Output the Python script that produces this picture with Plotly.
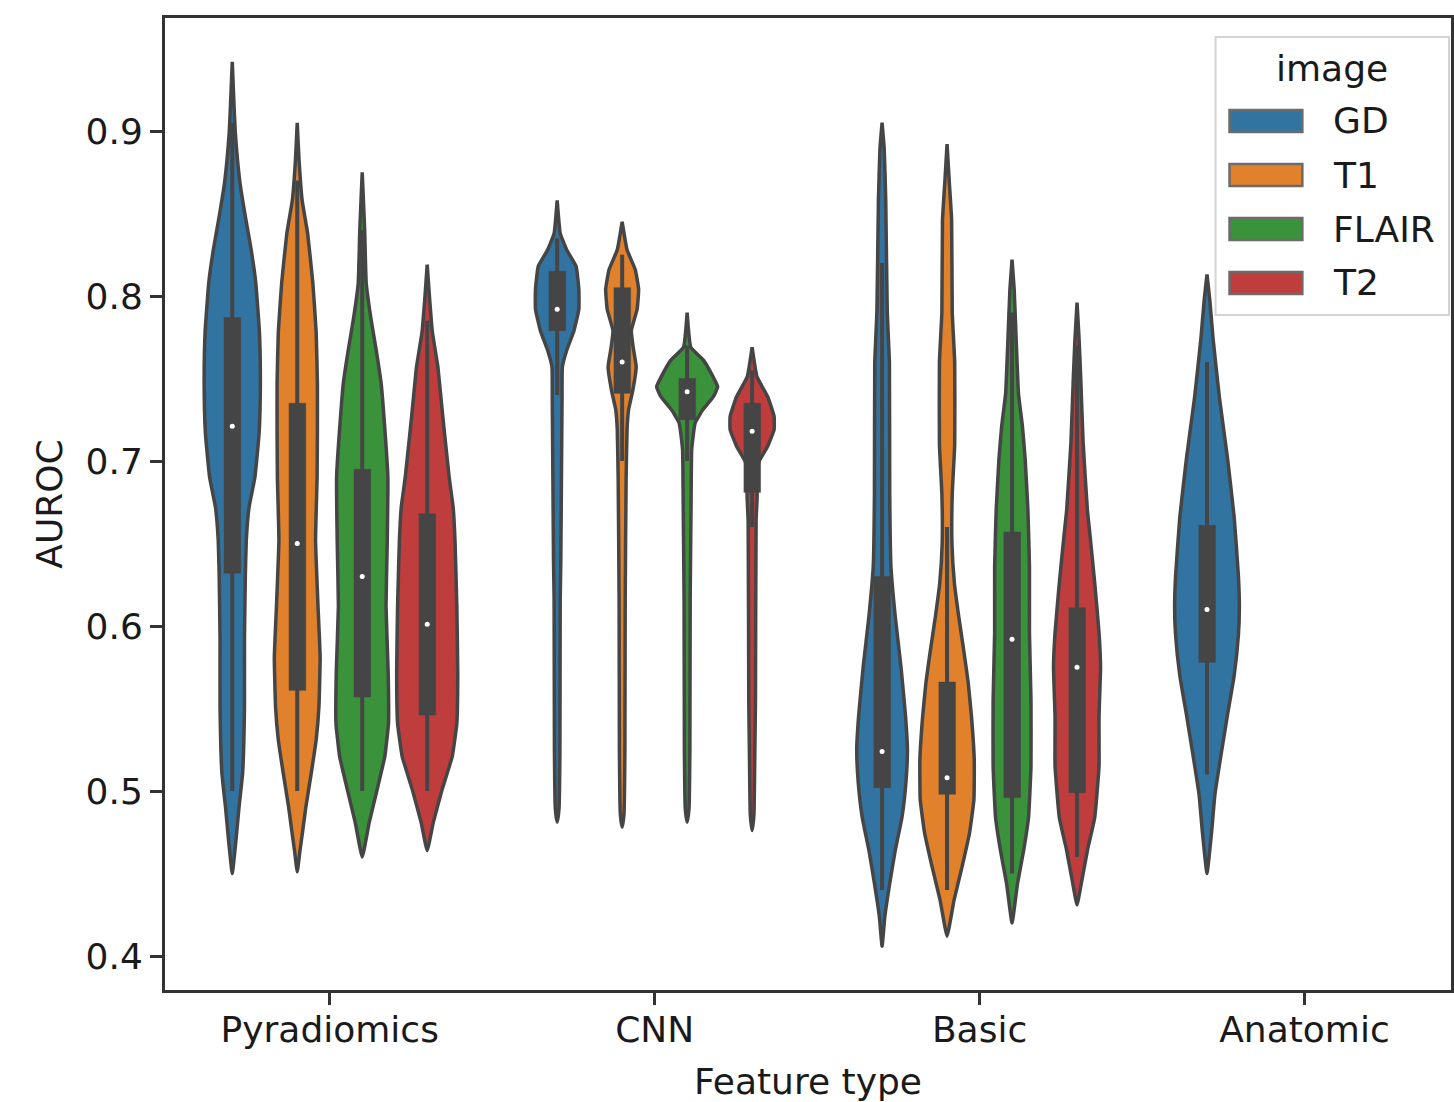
import plotly.graph_objects as go

# ---------------------------------------------------------------- categories
FEATURES = ["Pyradiomics", "CNN", "Basic", "Anatomic"]
IMAGES = ["GD", "T1", "FLAIR", "T2"]
COLORS = ["#3274a1", "#e1812c", "#3a923a", "#c03d3e"]
Y_TICKS = [0.4, 0.5, 0.6, 0.7, 0.8, 0.9]
Y_TICK_LABELS = ["0.4", "0.5", "0.6", "0.7", "0.8", "0.9"]

# ------------------------------------------------ kernel density profiles
# AUROC levels and relative density (1.0 = widest violin) for each violin
pyr_gd_auroc = [0.450, 0.470, 0.490, 0.511, 0.551, 0.592, 0.632, 0.652, 0.672, 0.690,
                0.717, 0.747, 0.778, 0.808, 0.828, 0.848, 0.869, 0.899, 0.919, 0.942]
pyr_gd_density = [0.0, 0.12, 0.22, 0.34, 0.40, 0.40, 0.43, 0.46, 0.55, 0.74,
                  0.88, 0.92, 0.89, 0.77, 0.62, 0.43, 0.25, 0.10, 0.05, 0.0]

pyr_t1_auroc = [0.451, 0.464, 0.476, 0.490, 0.511, 0.531, 0.551, 0.581, 0.612, 0.652,
                0.690, 0.717, 0.747, 0.778, 0.808, 0.838, 0.858, 0.882, 0.905]
pyr_t1_density = [0.0, 0.09, 0.18, 0.28, 0.46, 0.62, 0.71, 0.75, 0.68, 0.60,
                  0.65, 0.66, 0.66, 0.62, 0.51, 0.34, 0.16, 0.06, 0.0]

pyr_flair_auroc = [0.460, 0.481, 0.501, 0.521, 0.541, 0.572, 0.612, 0.652, 0.690,
                   0.727, 0.747, 0.767, 0.787, 0.808, 0.840, 0.875]
pyr_flair_density = [0.0, 0.23, 0.49, 0.74, 0.86, 0.85, 0.78, 0.82, 0.84,
                     0.71, 0.62, 0.46, 0.28, 0.13, 0.08, 0.0]

pyr_t2_auroc = [0.464, 0.481, 0.501, 0.521, 0.541, 0.572, 0.612, 0.652, 0.672,
                0.690, 0.727, 0.757, 0.778, 0.798, 0.819]
pyr_t2_density = [0.0, 0.20, 0.49, 0.82, 0.97, 1.00, 0.97, 0.91, 0.85,
                  0.72, 0.51, 0.35, 0.17, 0.08, 0.0]

cnn_gd_auroc = [0.481, 0.489, 0.525, 0.616, 0.640, 0.689, 0.737, 0.757, 0.767,
                0.779, 0.792, 0.804, 0.818, 0.828, 0.838, 0.858]
cnn_gd_density = [0.0, 0.06, 0.09, 0.10, 0.12, 0.14, 0.16, 0.17, 0.31,
                  0.55, 0.71, 0.71, 0.62, 0.31, 0.10, 0.0]

cnn_t1_auroc = [0.478, 0.486, 0.525, 0.616, 0.689, 0.719, 0.731, 0.743, 0.757,
                0.769, 0.779, 0.792, 0.804, 0.816, 0.828, 0.845]
cnn_t1_density = [0.0, 0.06, 0.09, 0.10, 0.13, 0.16, 0.21, 0.35, 0.46,
                  0.36, 0.30, 0.49, 0.54, 0.43, 0.16, 0.0]

cnn_flair_auroc = [0.481, 0.489, 0.525, 0.616, 0.676, 0.707, 0.723, 0.731, 0.739,
                   0.745, 0.751, 0.761, 0.769, 0.790]
cnn_flair_density = [0.0, 0.06, 0.09, 0.10, 0.13, 0.15, 0.26, 0.51, 0.86,
                     1.00, 0.85, 0.54, 0.12, 0.0]

cnn_t2_auroc = [0.476, 0.486, 0.525, 0.555, 0.664, 0.676, 0.699, 0.709, 0.719,
                0.727, 0.739, 0.751, 0.769]
cnn_t2_density = [0.0, 0.06, 0.09, 0.11, 0.13, 0.16, 0.21, 0.51, 0.72,
                  0.72, 0.51, 0.16, 0.0]

basic_gd_auroc = [0.406, 0.424, 0.444, 0.464, 0.484, 0.505, 0.525, 0.545, 0.575,
                  0.606, 0.636, 0.680, 0.760, 0.790, 0.858, 0.889, 0.905]
basic_gd_density = [0.0, 0.09, 0.25, 0.43, 0.65, 0.78, 0.83, 0.77, 0.62,
                    0.43, 0.29, 0.25, 0.24, 0.17, 0.12, 0.07, 0.0]

basic_t1_auroc = [0.412, 0.434, 0.454, 0.475, 0.495, 0.519, 0.545, 0.566, 0.586,
                  0.606, 0.626, 0.650, 0.680, 0.710, 0.760, 0.790, 0.846, 0.870, 0.892]
basic_t1_density = [0.0, 0.23, 0.49, 0.74, 0.88, 0.89, 0.80, 0.69, 0.54,
                    0.38, 0.24, 0.16, 0.17, 0.25, 0.25, 0.17, 0.15, 0.07, 0.0]

basic_flair_auroc = [0.420, 0.444, 0.464, 0.484, 0.515, 0.555, 0.596, 0.636, 0.670,
                     0.701, 0.721, 0.741, 0.776, 0.804, 0.822]
basic_flair_density = [0.0, 0.18, 0.38, 0.54, 0.62, 0.62, 0.57, 0.57, 0.52,
                       0.43, 0.34, 0.21, 0.13, 0.07, 0.0]

basic_t2_auroc = [0.431, 0.444, 0.464, 0.484, 0.515, 0.545, 0.575, 0.596, 0.626,
                  0.656, 0.670, 0.711, 0.751, 0.773, 0.796]
basic_t2_density = [0.0, 0.14, 0.34, 0.58, 0.72, 0.72, 0.77, 0.72, 0.58,
                    0.42, 0.34, 0.20, 0.12, 0.07, 0.0]

anat_gd_auroc = [0.450, 0.475, 0.498, 0.522, 0.546, 0.570, 0.595, 0.611, 0.630,
                 0.666, 0.702, 0.738, 0.774, 0.798, 0.813]
anat_gd_density = [0.0, 0.15, 0.26, 0.46, 0.67, 0.89, 1.03, 1.06, 1.03,
                   0.89, 0.67, 0.41, 0.20, 0.09, 0.0]

# ---------------------------------------- box statistics (GD, T1, FLAIR, T2)
pyr_q1 = [0.632, 0.561, 0.557, 0.546]
pyr_median = [0.721, 0.650, 0.630, 0.601]
pyr_q3 = [0.787, 0.735, 0.695, 0.668]
pyr_whisker_low = [0.500, 0.500, 0.500, 0.500]
pyr_whisker_high = [0.905, 0.870, 0.840, 0.785]

cnn_q1 = [0.779, 0.741, 0.725, 0.681]
cnn_median = [0.792, 0.760, 0.742, 0.718]
cnn_q3 = [0.815, 0.805, 0.750, 0.735]
cnn_whisker_low = [0.740, 0.700, 0.700, 0.660]
cnn_whisker_high = [0.835, 0.825, 0.770, 0.755]

basic_q1 = [0.502, 0.498, 0.496, 0.499]
basic_median = [0.524, 0.508, 0.592, 0.575]
basic_q3 = [0.630, 0.566, 0.657, 0.611]
basic_whisker_low = [0.440, 0.440, 0.450, 0.460]
basic_whisker_high = [0.820, 0.660, 0.790, 0.770]

anat_q1 = [0.578]
anat_median = [0.610]
anat_q3 = [0.661]
anat_whisker_low = [0.510]
anat_whisker_high = [0.760]

# ---------------------------------------------------------------- assembly
profiles = {
    "Pyradiomics": [(pyr_gd_auroc, pyr_gd_density), (pyr_t1_auroc, pyr_t1_density),
                    (pyr_flair_auroc, pyr_flair_density), (pyr_t2_auroc, pyr_t2_density)],
    "CNN": [(cnn_gd_auroc, cnn_gd_density), (cnn_t1_auroc, cnn_t1_density),
            (cnn_flair_auroc, cnn_flair_density), (cnn_t2_auroc, cnn_t2_density)],
    "Basic": [(basic_gd_auroc, basic_gd_density), (basic_t1_auroc, basic_t1_density),
              (basic_flair_auroc, basic_flair_density), (basic_t2_auroc, basic_t2_density)],
    "Anatomic": [(anat_gd_auroc, anat_gd_density)],
}
box_stats = {
    "Pyradiomics": (pyr_q1, pyr_median, pyr_q3, pyr_whisker_low, pyr_whisker_high),
    "CNN": (cnn_q1, cnn_median, cnn_q3, cnn_whisker_low, cnn_whisker_high),
    "Basic": (basic_q1, basic_median, basic_q3, basic_whisker_low, basic_whisker_high),
    "Anatomic": (anat_q1, anat_median, anat_q3, anat_whisker_low, anat_whisker_high),
}

GRAY = "#454545"
FONT = "DejaVu Sans"
TEXT = "#1a1a1a"
GROUP_WIDTH = 0.8
SLOT = GROUP_WIDTH / len(IMAGES)
HALF_WIDTH = 0.094          # half-width (category units) of a density of 1.0
BOX_HALF = 0.026

fig = go.Figure()

for fi, feature in enumerate(FEATURES):
    q1s, meds, q3s, lows, highs = box_stats[feature]
    for hi, (levels, dens) in enumerate(profiles[feature]):
        center = fi - GROUP_WIDTH / 2 + SLOT * (hi + 0.5)
        color = COLORS[hi]
        # violin outline: right side going up, left side coming back down
        xs = [center + d * HALF_WIDTH for d in dens] + \
             [center - d * HALF_WIDTH for d in reversed(dens)]
        ys = list(levels) + list(reversed(levels))
        fig.add_trace(go.Scatter(
            x=xs, y=ys, mode="lines", fill="toself", fillcolor=color,
            line=dict(color=GRAY, width=3.5, shape="spline", smoothing=0.35),
            name=IMAGES[hi], showlegend=False, hoverinfo="skip"))
        # whisker line
        fig.add_trace(go.Scatter(
            x=[center, center], y=[lows[hi], highs[hi]], mode="lines",
            line=dict(color=GRAY, width=4), showlegend=False, hoverinfo="skip"))
        # interquartile box
        fig.add_trace(go.Scatter(
            x=[center - BOX_HALF, center + BOX_HALF, center + BOX_HALF, center - BOX_HALF],
            y=[q1s[hi], q1s[hi], q3s[hi], q3s[hi]], mode="lines", fill="toself",
            fillcolor=GRAY, line=dict(color=GRAY, width=0.5),
            showlegend=False, hoverinfo="skip"))
        # median marker
        fig.add_trace(go.Scatter(
            x=[center], y=[meds[hi]], mode="markers",
            marker=dict(color="white", size=5, line=dict(width=0)),
            showlegend=False, hoverinfo="skip"))

# ---------------------------------------------------------------- legend box
PLOT_L, PLOT_R, PLOT_T, PLOT_B = 165, 1454, 18, 990


def px(xp):
    return (xp - PLOT_L) / (PLOT_R - PLOT_L)


def py(yp):
    return (PLOT_B - yp) / (PLOT_B - PLOT_T)


shapes = [dict(type="rect", xref="paper", yref="paper",
               x0=px(1218), x1=px(1452), y0=py(315), y1=py(37),
               line=dict(color="#d4d4d4", width=2), fillcolor="rgba(255,255,255,0.85)",
               layer="above")]
annotations = [dict(text="image", xref="paper", yref="paper", x=px(1335), y=py(68),
                    xanchor="center", yanchor="middle", showarrow=False,
                    font=dict(family=FONT, size=36, color=TEXT))]
for i, (label, color) in enumerate(zip(IMAGES, COLORS)):
    yc = 121 + 54 * i
    shapes.append(dict(type="rect", xref="paper", yref="paper",
                       x0=px(1232), x1=px(1305), y0=py(yc + 11), y1=py(yc - 11),
                       fillcolor=color, line=dict(color="#6b6b6b", width=2.5),
                       layer="above"))
    annotations.append(dict(text=label, xref="paper", yref="paper",
                            x=px(1334), y=py(yc), xanchor="left", yanchor="middle",
                            showarrow=False,
                            font=dict(family=FONT, size=36, color=TEXT)))

axis_common = dict(
    showline=True, linecolor="#333333", linewidth=3, mirror=True,
    ticks="outside", ticklen=12, tickwidth=2.5, tickcolor="#333333",
    showgrid=False, zeroline=False,
    tickfont=dict(family=FONT, size=36, color=TEXT),
)

fig.update_layout(
    width=1454, height=1102,
    margin=dict(l=PLOT_L, r=1454 - PLOT_R, t=PLOT_T, b=1102 - PLOT_B),
    paper_bgcolor="white", plot_bgcolor="white",
    font=dict(family=FONT, size=36, color=TEXT),
    xaxis=dict(range=[-0.507, 3.451], tickvals=list(range(len(FEATURES))),
               ticktext=FEATURES, ticklabelstandoff=-6,
               title=dict(text="Feature type", standoff=20,
                          font=dict(family=FONT, size=36)),
               **axis_common),
    yaxis=dict(range=[0.3794, 0.9685], tickvals=Y_TICKS, ticktext=Y_TICK_LABELS,
               ticklabelstandoff=0,
               title=dict(text="AUROC", standoff=12,
                          font=dict(family=FONT, size=36)),
               **axis_common),
    shapes=shapes,
    annotations=annotations,
    showlegend=False,
)

fig.write_html("out.html")
